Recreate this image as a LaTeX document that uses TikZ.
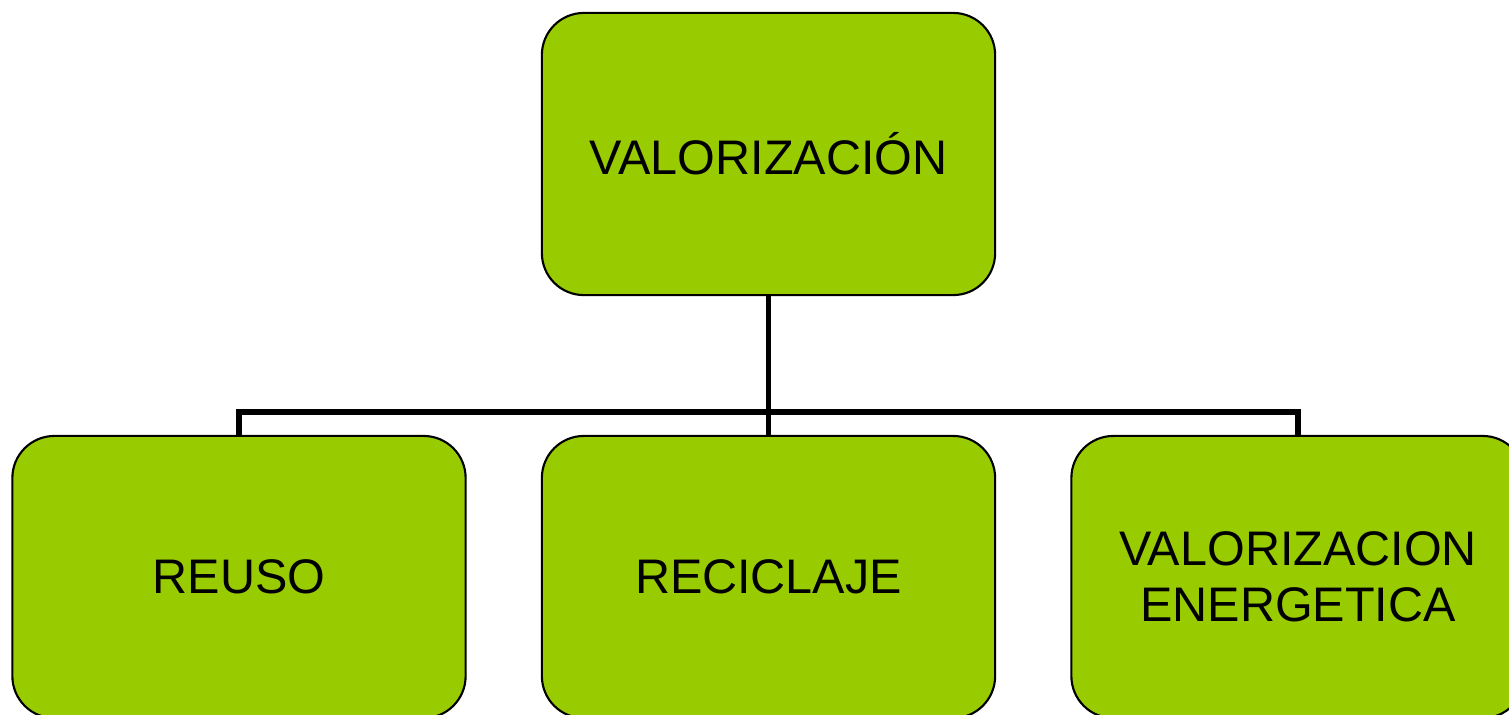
\documentclass[tikz,border=0pt]{standalone}
\usepackage{fontspec}
\setmainfont{Liberation Sans}
\definecolor{leafgreen}{HTML}{99CC00}
\begin{document}
\begin{tikzpicture}[x=0.01cm,y=-0.01cm,
	box/.style={draw=black,line width=0.6pt,fill=leafgreen,rounded corners=0.42cm,
		minimum width=4.53cm,minimum height=2.82cm,inner sep=0pt,align=center,
		font=\fontsize{13.8}{16}\selectfont},
	link/.style={line width=1.5pt}]
	\useasboundingbox (0,0) rectangle (1509,714);

	% the root box
	\node[box] (valor) at (768.5,154) {VALORIZACIÓN};

	% the three branches
	\foreach \name/\x/\txt in {
		reuso/239/REUSO,
		recic/768.5/RECICLAJE,
		energ/1298/{VALORIZACION\\ENERGETICA}}
			\node[box] (\name) at (\x,577) {\txt};

	% the tree lines
	\coordinate (fork) at (768.5,412);
	\draw[link] (valor.south) -- (fork);
	\foreach \name in {reuso,recic,energ}
		\draw[link] (fork) -| (\name.north);
\end{tikzpicture}
\end{document}
